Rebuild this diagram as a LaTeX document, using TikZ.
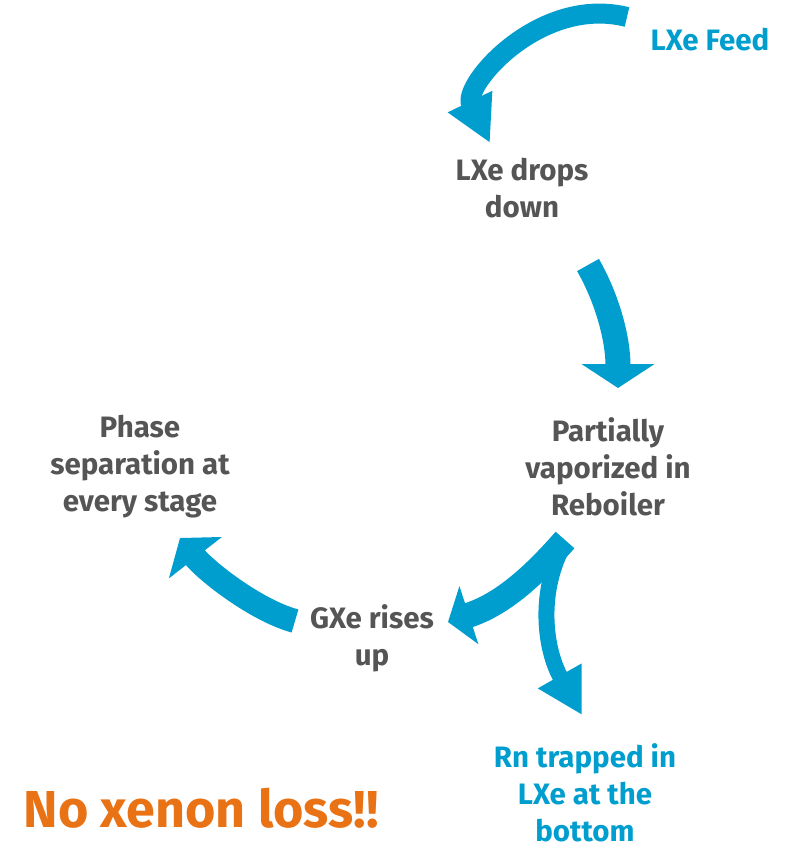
\documentclass[tikz,border=0pt]{standalone}
\usepackage{fontspec}
\setmainfont{Fira Sans}
\usetikzlibrary{arrows.meta}
\definecolor{txtgray}{RGB}{85,85,85}
\definecolor{xblue}{RGB}{0,158,206}
\definecolor{xorange}{RGB}{232,114,20}
\tikzset{
  lbl/.style={text=txtgray, font=\bfseries\fontsize{29.5}{37}\selectfont, align=center, inner sep=0pt},
  bluelbl/.style={lbl, text=xblue},
  blockarrow/.style={draw=xblue, line cap=butt},
}
\begin{document}
\begin{tikzpicture}[x=1pt,y=-1pt]
\useasboundingbox (0,0) rectangle (796,848);
% labels
\node[bluelbl] (feed) at (710,40) {LXe Feed};
\node[lbl] (drops) at (522,188) {LXe drops\\down};
\node[lbl] (reboil) at (608,467) {Partially\\vaporized in\\Reboiler};
\node[lbl] (phase) at (140,467) {Phase\\separation at\\every stage};
\node[lbl] (gxe) at (372,638) {GXe rises\\up};
\node[bluelbl] (rn) at (585,793) {Rn trapped in\\LXe at the\\bottom};
\node[text=xorange, font=\bfseries\fontsize{52}{58}\selectfont, inner sep=0pt] (loss) at (201,808) {No xenon loss!\kern0pt!};
% arrow end points
\coordinate (a1s) at (627,17);  \coordinate (a1e) at (490,143);
\coordinate (a2s) at (588,265); \coordinate (a2e) at (618,388);
\coordinate (a3s) at (565,540); \coordinate (a3e) at (448,622);
\coordinate (a4s) at (295,621); \coordinate (a4e) at (180,538);
\coordinate (a5s) at (562,548); \coordinate (a5e) at (582,715);
% arrows
\draw[blockarrow, line width=20pt, -{Triangle[width=46pt,length=46pt]}]
  (a1s) .. controls (540,-5) and (462,85) .. (a1e);
\draw[blockarrow, line width=25pt, -{Triangle[width=72pt,length=24pt]}]
  (a2s) .. controls (608,300) and (618,340) .. (a2e);
\draw[blockarrow, line width=16pt, -{Triangle[width=47pt,length=45pt]}]
  (a5s) .. controls (538,595) and (545,650) .. (a5e);
\draw[blockarrow, line width=25pt, -{Triangle[width=60pt,length=22pt]}]
  (a3s) .. controls (530,580) and (500,605) .. (a3e);
\draw[blockarrow, line width=24pt, -{Triangle[width=66pt,length=25pt]}]
  (a4s) .. controls (255,610) and (205,570) .. (a4e);
\end{tikzpicture}
\end{document}
